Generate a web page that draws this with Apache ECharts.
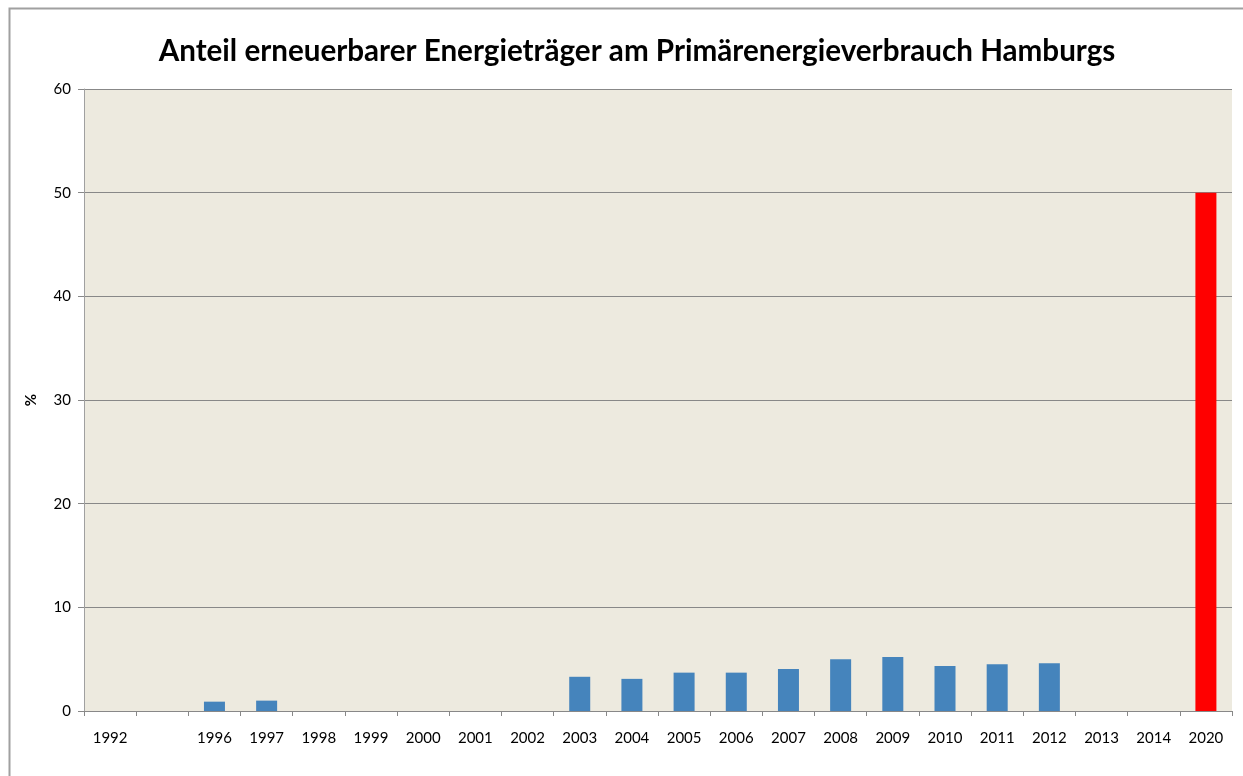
<!DOCTYPE html>
<html>
<head>
<meta charset="utf-8">
<script src="https://cdn.jsdelivr.net/npm/echarts@6/dist/echarts.min.js"></script>
<style>
html,body{margin:0;padding:0;background:#fff;}
#chart{width:1243px;height:776px;}
</style>
</head>
<body>
<div id="chart"></div>
<script>
const titleText = 'Anteil erneuerbarer Energieträger am Primärenergieverbrauch Hamburgs';
const categories = ['1992', '', '1996', '1997', '1998', '1999', '2000', '2001', '2002', '2003', '2004', '2005', '2006', '2007', '2008', '2009', '2010', '2011', '2012', '2013', '2014', '2020'];
const values = [null, null, 0.9, 1.0, null, null, null, null, null, 3.3, 3.1, 3.7, 3.7, 4.05, 5.0, 5.2, 4.35, 4.5, 4.6, null, null, 50];
const targetYear = '2020';
const yTicks = [0, 10, 20, 30, 40, 50, 60];

const FONT = 'Lato, "Open Sans", sans-serif';
const chart = echarts.init(document.getElementById('chart'), null, {renderer: 'canvas'});
chart.setOption({
  animation: false,
  backgroundColor: '#ffffff',
  graphic: [{
    type: 'rect', left: 7, top: 6, z: 100, silent: true,
    shape: {width: 1400, height: 1000},
    style: {fill: 'none', stroke: '#a0a0a0', lineWidth: 2}
  }],
  title: {
    text: titleText,
    left: 632, top: 31,
    textAlign: 'center',
    textStyle: {fontFamily: FONT, fontSize: 29.6, fontWeight: 'bold', color: '#000'}
  },
  grid: {left: 84, right: 11, top: 89, bottom: 65, show: true, backgroundColor: '#edeadf', borderWidth: 0},
  xAxis: {
    type: 'category',
    data: categories,
    boundaryGap: true,
    axisLine: {show: true, lineStyle: {color: '#888888', width: 1}},
    axisTick: {show: true, length: 5, lineStyle: {color: '#888888'}, interval: 0},
    axisLabel: {interval: 0, color: '#000', fontFamily: FONT, fontSize: 15, margin: 20},
    splitLine: {show: false}
  },
  yAxis: {
    type: 'value',
    min: yTicks[0], max: yTicks[yTicks.length - 1], interval: 10,
    name: '%',
    nameLocation: 'middle',
    nameRotate: 90,
    nameGap: 45,
    nameTextStyle: {fontFamily: FONT, fontSize: 15, fontWeight: 'bold', color: '#000'},
    axisLine: {show: true, lineStyle: {color: '#a0a0a0', width: 1}},
    axisTick: {show: true, length: 6, lineStyle: {color: '#888888'}},
    axisLabel: {color: '#000', fontFamily: FONT, fontSize: 15, margin: 13},
    splitLine: {show: true, lineStyle: {color: '#888888', width: 1}}
  },
  series: [{
    type: 'bar',
    barWidth: 21,
    data: values.map((v, i) => ({
      value: v,
      itemStyle: {color: categories[i] === targetYear ? '#ff0000' : '#4584bc'}
    }))
  }]
});
</script>
</body>
</html>
